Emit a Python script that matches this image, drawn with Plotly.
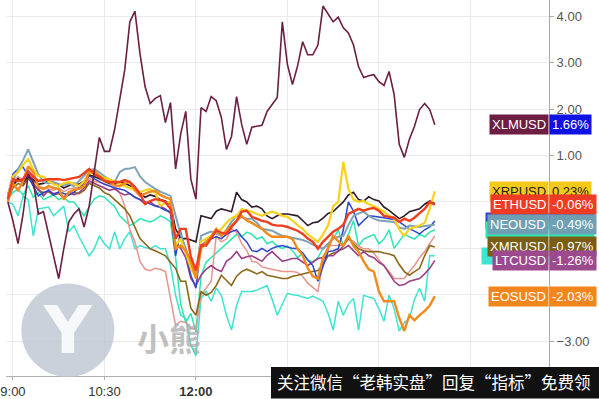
import pandas as pd
import plotly.graph_objects as go

# ---- data (percent change, 5-minute samples from 08:55) ----
times = pd.date_range("2018-03-01 08:55", periods=85, freq="5min")

xlm = [0.00, -0.41, -0.90, -0.26, 0.60, 0.43, -0.26, -0.21, -0.69, -1.18,
       -1.65, -1.01, -0.43, -0.26, -0.15, -0.54, -0.09, 0.66, 1.39, 1.09,
       1.09, 1.56, 2.21, 2.85, 3.88, 4.11, 3.19, 2.48, 2.12, 2.23,
       2.29, 1.71, 2.14, 0.71, 1.46, 1.95, 0.49, 0.06, 2.03, 1.95,
       2.27, 2.18, 1.82, 1.13, 1.41, 2.27, 1.67, 1.24, 1.61, 1.63,
       1.65, 1.95, 2.10, 2.25, 3.88, 2.96, 2.53, 2.93, 3.45, 3.17,
       3.17, 3.38, 4.22, 4.05, 3.88, 3.98, 3.75, 3.64, 3.38, 2.91,
       2.68, 2.72, 2.74, 2.59, 2.51, 2.81, 2.31, 1.24, 0.96, 1.35,
       1.63, 1.99, 2.12, 1.99, 1.66]

eth = [0.06, 0.49, 0.45, 0.49, 0.66, 0.54, 0.45, 0.47, 0.49, 0.49,
       0.49, 0.47, 0.49, 0.51, 0.54, 0.62, 0.71, 0.60, 0.54, 0.45,
       0.43, 0.43, 0.43, 0.47, 0.43, 0.32, 0.17, -0.04, 0.02, 0.06,
       0.04, 0.00, -0.15, -0.79, -0.58, -0.58, -1.18, -1.48, -0.94, -0.94,
       -0.79, -0.62, -0.66, -0.69, -0.54, -0.41, -0.21, -0.19, -0.32, -0.36,
       -0.41, -0.43, -0.49, -0.51, -0.51, -0.54, -0.58, -0.62, -0.69, -0.79,
       -0.86, -1.01, -0.86, -0.75, -0.64, -0.58, -0.49, -0.26, -0.21, -0.15,
       -0.19, -0.15, -0.13, -0.19, -0.30, -0.32, -0.34, -0.43, -0.36, -0.41,
       -0.34, -0.24, -0.15, 0.00, -0.06]

xrp = [0.10, 0.55, 0.64, 0.80, 0.92, 0.70, 0.56, 0.54, 0.45, 0.38,
       0.34, 0.40, 0.43, 0.38, 0.34, 0.45, 0.64, 0.60, 0.56, 0.52,
       0.48, 0.45, 0.40, 0.34, 0.30, 0.26, 0.21, 0.25, 0.28, 0.20,
       -0.09, -0.02, 0.00, -0.94, -0.79, -1.10, -1.43, -1.61, -0.85, -0.79,
       -0.73, -0.65, -0.58, -0.45, -0.35, -0.30, -0.15, -0.18, -0.21, -0.26,
       -0.30, -0.25, -0.21, -0.25, -0.30, -0.32, -0.40, -0.50, -0.58, -0.70,
       -0.79, -0.86, -0.70, -0.51, -0.09, 0.00, 0.86, 0.28, 0.05, 0.00,
       0.02, -0.05, -0.09, -0.15, -0.21, -0.30, -0.36, -0.60, -0.73, -0.58,
       -0.55, -0.51, -0.45, -0.15, 0.23]

eos = [0.00, 0.40, 0.25, 0.45, 0.77, 0.64, 0.32, 0.28, 0.34, 0.30,
       0.28, 0.05, 0.21, 0.26, 0.28, 0.34, 0.65, 0.68, 0.56, 0.47,
       0.43, 0.36, 0.34, 0.40, 0.43, 0.25, 0.13, 0.18, 0.22, 0.24,
       0.15, 0.10, 0.06, -1.01, -0.94, -1.05, -1.28, -1.65, -1.01, -0.86,
       -0.75, -0.58, -0.73, -0.62, -0.51, -0.40, -0.30, -0.40, -0.45, -0.52,
       -0.58, -0.68, -0.75, -0.75, -0.75, -0.75, -0.80, -1.01, -1.15, -1.43,
       -1.60, -1.65, -1.20, -1.01, -0.73, -0.85, -0.94, -0.73, -0.95, -1.07,
       -1.28, -1.45, -1.50, -1.93, -2.14, -2.14, -2.14, -2.50, -2.78, -2.44,
       -2.55, -2.44, -2.35, -2.23, -2.03]

neo = [0.17, 0.45, 0.71, 0.90, 1.13, 0.86, 0.60, 0.43, 0.40, 0.43,
       0.38, 0.35, 0.40, 0.34, 0.45, 0.55, 0.68, 0.71, 0.64, 0.55,
       0.48, 0.43, 0.64, 0.71, 0.72, 0.75, 0.55, 0.43, 0.35, 0.28,
       0.22, 0.18, 0.13, -0.30, -0.70, -1.00, -1.37, -1.58, -0.73, -0.68,
       -0.64, -0.68, -0.73, -0.60, -0.43, -0.30, -0.33, -0.36, -0.36, -0.45,
       -0.58, -0.60, -0.62, -0.68, -0.73, -0.75, -0.77, -0.79, -0.82, -0.86,
       -0.92, -0.96, -1.01, -0.90, -0.79, -0.75, -0.73, -0.50, -0.30, -0.25,
       -0.21, -0.30, -0.36, -0.40, -0.41, -0.42, -0.43, -0.55, -0.58, -0.51,
       -0.52, -0.54, -0.52, -0.51, -0.49]

dark = [0.10, 0.35, 0.50, 0.42, 0.55, 0.48, 0.38, 0.40, 0.45, 0.42,
        0.38, 0.30, 0.35, 0.40, 0.38, 0.45, 0.58, 0.55, 0.50, 0.45,
        0.40, 0.38, 0.42, 0.40, 0.35, 0.30, 0.20, 0.10, 0.15, 0.12,
        0.05, 0.02, -0.05, -0.58, -0.79, -0.79, -0.82, -0.86, -0.30, -0.33,
        -0.36, -0.20, -0.15, -0.18, -0.21, 0.21, 0.05, 0.00, -0.11, -0.09,
        -0.15, -0.30, -0.36, -0.30, -0.26, -0.26, -0.28, -0.30, -0.40, -0.51,
        -0.45, -0.43, -0.35, -0.25, -0.21, -0.10, 0.00, 0.15, 0.21, 0.05,
        0.02, 0.11, 0.05, 0.02, -0.11, -0.18, -0.26, -0.36, -0.30, -0.21,
        -0.18, -0.15, -0.05, 0.02, -0.04]

blue = [0.15, 0.60, 0.71, 0.75, 0.55, 0.35, 0.13, 0.20, 0.25, 0.15,
        0.22, 0.18, 0.15, 0.21, 0.30, 0.40, 0.56, 0.50, 0.45, 0.38,
        0.34, 0.30, 0.28, 0.25, 0.18, 0.10, 0.05, 0.00, -0.05, -0.09,
        -0.12, -0.18, -0.21, -1.16, -0.64, -1.10, -1.58, -1.86, -0.94, -0.85,
        -0.79, -0.75, -0.79, -0.70, -0.64, -0.60, -0.75, -0.86, -1.05, -1.07,
        -1.00, -1.07, -1.00, -0.96, -0.94, -0.97, -1.00, -1.01, -1.10, -1.25,
        -1.37, -1.71, -1.40, -1.07, -1.05, -1.01, -0.60, 0.00, -0.20, -0.51,
        -0.40, -0.30, -0.31, -0.32, -0.34, -0.36, -0.38, -0.43, -0.50, -0.58,
        -0.63, -0.69, -0.60, -0.54, -0.41]

ltc = [0.05, 0.35, 0.50, 0.40, 0.60, 0.35, 0.28, 0.13, 0.25, 0.18,
       0.20, 0.10, 0.22, 0.15, 0.20, 0.30, 0.45, 0.40, 0.35, 0.30,
       0.25, 0.28, 0.20, 0.15, 0.18, 0.10, 0.05, -0.05, 0.00, -0.08,
       -0.10, -0.15, -0.25, -0.90, -1.00, -1.20, -1.65, -1.80, -1.58, -1.45,
       -1.37, -1.45, -1.50, -1.28, -1.20, -1.07, -1.22, -1.18, -1.16, -1.22,
       -1.28, -1.15, -1.07, -1.18, -1.28, -1.25, -1.22, -1.22, -1.30, -1.37,
       -1.30, -1.22, -1.20, -1.16, -1.16, -1.05, -1.01, -0.94, -1.05, -1.16,
       -1.07, -1.16, -1.20, -1.30, -1.37, -1.55, -1.71, -1.80, -1.78, -1.71,
       -1.68, -1.65, -1.55, -1.43, -1.26]

xmr = [0.05, 0.30, 0.40, 0.35, 0.50, 0.40, 0.25, 0.20, 0.22, 0.15,
       0.18, 0.10, 0.15, 0.20, 0.18, 0.25, 0.40, 0.35, 0.30, 0.20,
       0.15, 0.05, -0.05, -0.15, -0.30, -0.55, -0.79, -0.90, -1.01, -1.05,
       -1.10, -1.16, -1.30, -1.43, -1.71, -1.71, -2.29, -2.44, -1.93, -2.01,
       -1.95, -1.80, -1.58, -1.70, -1.80, -1.60, -1.50, -1.45, -1.50, -1.55,
       -1.50, -1.58, -1.60, -1.62, -1.65, -1.65, -1.60, -1.58, -1.55, -1.52,
       -1.50, -1.48, -1.35, -1.16, -1.10, -1.07, -0.95, -0.79, -0.90, -1.01,
       -1.05, -1.07, -1.07, -1.07, -1.10, -1.12, -1.16, -1.35, -1.50, -1.58,
       -1.50, -1.43, -1.16, -0.94, -0.97]

pink = [0.08, 0.40, 0.55, 0.45, 0.62, 0.45, 0.35, 0.30, 0.28, 0.25,
        0.30, 0.22, 0.28, 0.30, 0.32, 0.40, 0.50, 0.45, 0.42, 0.38,
        0.36, 0.34, 0.20, -0.09, -0.60, -0.86, -1.28, -1.45, -1.48, -1.43,
        -1.45, -1.50, -2.08, -2.66, -2.57, -2.60, -2.72, -2.75, -2.01, -1.85,
        -1.71, -0.73, -0.86, -0.80, -0.58, -0.65, -0.90, -1.05, -1.28, -1.30,
        -1.40, -1.43, -1.45, -1.48, -1.50, -1.50, -1.50, -1.52, -1.60, -1.75,
        -1.85, -1.93, -1.30, -0.94, -0.94, -0.94, -0.94, -0.79, -0.85, -0.95,
        -1.01, -1.01, -1.10, -1.25, -1.37, -1.50, -1.65, -1.65, -1.65, -1.50,
        -1.37, -1.20, -1.07, -0.90, -0.73]

cyan = [0.00, -0.05, -0.30, 0.13, 0.05, -0.73, -0.15, -0.13, -0.11, -0.30,
        -0.20, -0.09, -0.64, -0.51, -0.75, -0.95, -1.16, -1.01, -0.73, -0.90,
        -1.01, -0.64, -1.01, -0.79, -0.64, -1.01, -0.94, -0.98, -1.01, -0.94,
        -1.01, -1.01, -1.37, -2.01, -2.44, -2.51, -3.08, -3.32, -2.08, -1.93,
        -2.14, -1.86, -2.01, -2.44, -2.76, -2.23, -1.93, -1.93, -1.93, -1.90,
        -1.85, -1.80, -2.10, -2.44, -2.20, -1.97, -2.00, -2.01, -2.05, -2.08,
        -2.03, -2.08, -2.14, -2.40, -2.76, -2.14, -2.44, -2.20, -2.08, -2.76,
        -2.01, -2.05, -2.08, -2.30, -2.57, -2.01, -2.30, -2.78, -2.60, -2.51,
        -2.10, -1.86, -2.14, -1.16, -1.16]

teal = [0.05, 0.20, 0.28, 0.15, 0.35, 0.10, 0.20, 0.05, 0.10, 0.15,
        0.05, 0.10, 0.00, 0.00, -0.15, -0.30, -0.10, 0.06, 0.13, 0.10,
        0.00, -0.10, -0.30, -0.40, -0.51, -0.45, -0.36, -0.40, -0.43, -0.38,
        -0.30, -0.35, -0.43, -1.20, -2.20, -2.60, -2.40, -2.80, -1.60, -1.30,
        -1.20, -1.10, -1.00, -0.90, -0.80, -0.70, -0.75, -0.65, -0.70, -0.80,
        -0.75, -0.90, -0.85, -0.95, -1.00, -0.95, -1.05, -1.20, -1.10, -1.25,
        -1.30, -1.20, -1.00, -0.90, -0.80, -0.60, -0.95, -0.70, -0.40, -0.95,
        -0.80, -0.75, -0.70, -0.90, -0.80, -0.60, -1.00, -0.85, -0.70, -0.75,
        -0.80, -0.70, -0.75, -0.65, -0.60]

tick_times = ["2018-03-01 09:00", "2018-03-01 10:30", "2018-03-01 12:00",
              "2018-03-01 13:30", "2018-03-01 15:00", "2018-03-01 16:30"]
tick_labels = ["9:00", "10:30", "<b>12:00</b>", "13:30", "15:00", "16:30"]
y_ticks = [-3, -2, -1, 0, 1, 2, 3, 4]

# (values, line colour, width)  drawn bottom -> top
lines = [
    (cyan, "#3ee3d2", 1.5),
    (teal, "#2de6b2", 1.5),
    (pink, "#e8948e", 1.5),
    (xmr, "#8a6818", 1.6),
    (ltc, "#9c3f86", 1.6),
    (blue, "#2b45cc", 1.5),
    (dark, "#2e1b2c", 1.6),
    (neo, "#7fa3b6", 2.0),
    (xrp, "#f7d21a", 2.2),
    (eos, "#f28a1c", 2.4),
    (eth, "#ee3e1e", 2.4),
    (xlm, "#6b1f42", 1.6),
]

fig = go.Figure()
for vals, col, w in lines:
    fig.add_trace(go.Scatter(x=times, y=vals, mode="lines",
                             line=dict(color=col, width=w),
                             hoverinfo="skip", showlegend=False))

tagfont = "Liberation Sans, Arial, sans-serif"
annotations = []


def tag(name, val, bg, vbg, fc, hidden=False, nw=None):
    if hidden:
        annotations.append(dict(xref="paper", yref="y", x=1, y=val, xanchor="right",
                                yanchor="middle", text="&nbsp;", showarrow=False,
                                bgcolor=bg, width=nw, height=16, borderpad=0,
                                font=dict(size=12, family=tagfont)))
        annotations.append(dict(xref="paper", yref="y", x=1, y=val, xanchor="left",
                                yanchor="middle", text="&nbsp;", showarrow=False,
                                bgcolor=bg, width=44, height=16, borderpad=0,
                                font=dict(size=12, family=tagfont)))
        return
    annotations.append(dict(xref="paper", yref="y", x=1, y=val, xanchor="right",
                            yanchor="middle", text=name, showarrow=False, bgcolor=bg,
                            borderpad=2, font=dict(size=13, color=fc, family=tagfont)))
    annotations.append(dict(xref="paper", yref="y", x=1, y=val, xanchor="left",
                            yanchor="middle", text=f"{val:.2f}%", showarrow=False,
                            bgcolor=vbg, borderpad=2,
                            font=dict(size=13, color=fc, family=tagfont)))


tag("", blue[-1], "#2b45cc", "#2b45cc", "white", hidden=True, nw=62)
tag("", teal[-1], "#2de6b2", "#2de6b2", "white", hidden=True, nw=62)
tag("", cyan[-1], "#3ee3d2", "#3ee3d2", "white", hidden=True, nw=66)
tag("XLMUSD", xlm[-1], "#6e1d43", "#0f12e2", "white")
tag("XRPUSD", xrp[-1], "#f4c918", "#f4c918", "#222222")
tag("ETHUSD", eth[-1], "#ee3b24", "#ee3b24", "white")
tag("NEOUSD", neo[-1], "#6f9fb3", "#6f9fb3", "white")
tag("XMRUSD", xmr[-1], "#7a5c12", "#7a5c12", "white")
tag("LTCUSD", ltc[-1], "#9b4a8e", "#9b4a8e", "white")
tag("EOSUSD", eos[-1], "#f2861d", "#f2861d", "white")

# watermark
annotations.append(dict(xref="paper", yref="paper", x=0.114, y=0.12, text="<b>Y</b>",
                        xanchor="center", yanchor="middle", showarrow=False,
                        font=dict(size=66, color="rgba(255,255,255,0.85)",
                                  family="DejaVu Sans")))
annotations.append(dict(xref="paper", yref="paper", x=0.30, y=0.105, text="<b>小熊</b>",
                        xanchor="center", yanchor="middle", showarrow=False,
                        font=dict(size=32, color="rgba(175,175,175,0.8)",
                                  family="Noto Sans CJK SC")))
# bottom banner text
annotations.append(dict(xref="paper", yref="paper", x=0.788, y=-0.016,
                        xanchor="center", yanchor="middle",
                        text="关注微信“老韩实盘”回复“指标”免费领",
                        showarrow=False, font=dict(size=16.5, color="white",
                                                   family="Noto Sans CJK SC")))

shapes = [
    dict(type="circle", xref="paper", yref="paper", x0=0.0282, x1=0.1995,
         y0=-0.0026, y1=0.246, fillcolor="rgba(190,198,210,0.8)", line=dict(width=0),
         layer="above"),
    dict(type="rect", xref="paper", yref="paper", x0=0.488, x1=1.095,
         y0=-0.06, y1=0.0238, fillcolor="#111111", line=dict(width=0), layer="above"),
]

fig.update_layout(
    width=599, height=399,
    margin=dict(l=0, r=50, t=0, b=21),
    paper_bgcolor="white", plot_bgcolor="white",
    annotations=annotations, shapes=shapes,
    xaxis=dict(range=["2018-03-01 08:53:10", "2018-03-01 17:47:20"],
               tickvals=tick_times, ticktext=tick_labels,
               ticklabeloverflow="allow",
               showgrid=True, gridcolor="#ebebeb", gridwidth=1,
               showline=True, linecolor="#b0b0b0", linewidth=1,
               ticks="outside", ticklen=3, tickcolor="#b0b0b0",
               tickfont=dict(size=13, color="#333333", family=tagfont),
               zeroline=False, fixedrange=True),
    yaxis=dict(side="right", range=[-3.75, 4.35],
               tickvals=y_ticks, tickformat=".2f", ticksuffix="%",
               showgrid=True, gridcolor="#ebebeb", gridwidth=1,
               showline=True, linecolor="#a8a8a8", linewidth=1,
               ticks="outside", ticklen=4, tickcolor="#a8a8a8",
               tickfont=dict(size=13, color="#555555", family=tagfont),
               zeroline=False, fixedrange=True),
)

fig.write_html("out.html",
               config={"displayModeBar": False},
               post_script="document.body.style.margin='0';"
                           "document.body.style.overflow='hidden';")
